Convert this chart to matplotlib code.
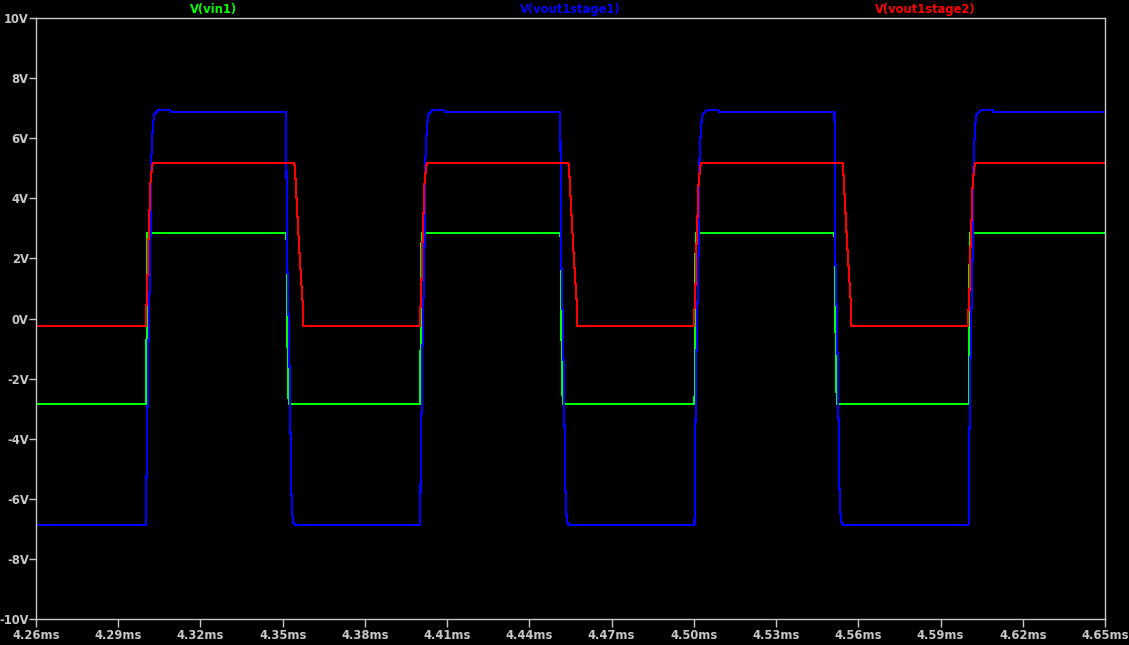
import matplotlib
matplotlib.use("Agg")
import matplotlib.pyplot as plt
from matplotlib.ticker import FixedLocator

# ---- data (time in ms, voltage in V) ----
vin1_t = [4.26,
          4.30024, 4.30028, 4.30068,
          4.35095, 4.35139, 4.35157, 4.35193, 4.35219,
          4.40024, 4.40028, 4.40068,
          4.45095, 4.45139, 4.45157, 4.45193, 4.45219,
          4.50024, 4.50028, 4.50068,
          4.55095, 4.55139, 4.55157, 4.55193, 4.55219,
          4.60024, 4.60028, 4.60068,
          4.65]
vin1_v = [-2.85,
          -2.85, -1.1, 2.85,
          2.85, 2.72, 0.3, -2.1, -2.85,
          -2.85, -1.1, 2.85,
          2.85, 2.72, 0.3, -2.1, -2.85,
          -2.85, -1.1, 2.85,
          2.85, 2.72, 0.3, -2.1, -2.85,
          -2.85, -1.1, 2.85,
          2.85]

stage1_t = [4.26,
            4.30024, 4.30028, 4.30097, 4.30170, 4.30206, 4.30261, 4.30316, 4.30389, 4.30462, 4.30900, 4.30936,
            4.35131, 4.35139, 4.35157, 4.35204, 4.35241, 4.35277, 4.35314, 4.35350, 4.35387, 4.35449,
            4.40024, 4.40028, 4.40097, 4.40170, 4.40206, 4.40261, 4.40316, 4.40389, 4.40462, 4.40900, 4.40936,
            4.45131, 4.45139, 4.45157, 4.45204, 4.45241, 4.45277, 4.45314, 4.45350, 4.45387, 4.45449,
            4.50024, 4.50028, 4.50097, 4.50170, 4.50206, 4.50261, 4.50316, 4.50389, 4.50462, 4.50900, 4.50936,
            4.55131, 4.55139, 4.55157, 4.55204, 4.55241, 4.55277, 4.55314, 4.55350, 4.55387, 4.55449,
            4.60024, 4.60028, 4.60097, 4.60170, 4.60206, 4.60261, 4.60316, 4.60389, 4.60462, 4.60900, 4.60936,
            4.65]
stage1_v = [-6.86,
            -6.86, -5.5, -1.05, 2.1, 5.3, 6.4, 6.8, 6.86, 6.93, 6.93, 6.86,
            6.86, 4.75, 2.2, 0.5, -1.15, -3.3, -5.7, -6.5, -6.8, -6.86,
            -6.86, -5.5, -1.05, 2.1, 5.3, 6.4, 6.8, 6.86, 6.93, 6.93, 6.86,
            6.86, 4.75, 2.2, 0.5, -1.15, -3.3, -5.7, -6.5, -6.8, -6.86,
            -6.86, -5.5, -1.05, 2.1, 5.3, 6.4, 6.8, 6.86, 6.93, 6.93, 6.86,
            6.86, 4.75, 2.2, 0.5, -1.15, -3.3, -5.7, -6.5, -6.8, -6.86,
            -6.86, -5.5, -1.05, 2.1, 5.3, 6.4, 6.8, 6.86, 6.93, 6.93, 6.86,
            6.86]

stage2_t = [4.26,
            4.30013, 4.30014, 4.30050, 4.30086, 4.30123, 4.30170, 4.30221, 4.30258,
            4.35423, 4.35449, 4.35522, 4.35595, 4.35668, 4.35741, 4.35752,
            4.40013, 4.40014, 4.40050, 4.40086, 4.40123, 4.40170, 4.40221, 4.40258,
            4.45423, 4.45449, 4.45522, 4.45595, 4.45668, 4.45741, 4.45752,
            4.50013, 4.50014, 4.50050, 4.50086, 4.50123, 4.50170, 4.50221, 4.50258,
            4.55423, 4.55449, 4.55522, 4.55595, 4.55668, 4.55741, 4.55752,
            4.60013, 4.60014, 4.60050, 4.60086, 4.60123, 4.60170, 4.60221, 4.60258,
            4.65]
stage2_v = [-0.25,
            -0.25, 0.2, 0.7, 2.2, 3.1, 4.45, 4.95, 5.18,
            5.18, 4.95, 3.7, 2.45, 1.35, 0.35, -0.25,
            -0.25, 0.2, 0.7, 2.2, 3.1, 4.45, 4.95, 5.18,
            5.18, 4.95, 3.7, 2.45, 1.35, 0.35, -0.25,
            -0.25, 0.2, 0.7, 2.2, 3.1, 4.45, 4.95, 5.18,
            5.18, 4.95, 3.7, 2.45, 1.35, 0.35, -0.25,
            -0.25, 0.2, 0.7, 2.2, 3.1, 4.45, 4.95, 5.18,
            5.18]

series_names = ["V(vin1)", "V(vout1stage1)", "V(vout1stage2)"]
series_colors = ["#00ff00", "#0000ff", "#ff0000"]

x_ticks = [4.26, 4.29, 4.32, 4.35, 4.38, 4.41, 4.44, 4.47, 4.50, 4.53, 4.56, 4.59, 4.62, 4.65]
x_tick_labels = ["4.26ms", "4.29ms", "4.32ms", "4.35ms", "4.38ms", "4.41ms", "4.44ms",
                 "4.47ms", "4.50ms", "4.53ms", "4.56ms", "4.59ms", "4.62ms", "4.65ms"]
y_ticks = [10, 8, 6, 4, 2, 0, -2, -4, -6, -8, -10]
y_tick_labels = ["10V", "8V", "6V", "4V", "2V", "0V", "-2V", "-4V", "-6V", "-8V", "-10V"]

# ---- figure ----
W, H = 1129, 645
fig = plt.figure(figsize=(W / 100, H / 100), dpi=100, facecolor="black")
ax = fig.add_axes([36 / W, 26 / H, 1069 / W, 601 / H], facecolor="black")

frame_col = "#c8c8c8"
for t, v, c in zip([vin1_t, stage1_t, stage2_t], [vin1_v, stage1_v, stage2_v], series_colors):
    ax.plot(t, v, color=c, lw=0.75, solid_joinstyle="miter", antialiased=False)

ax.set_xlim(4.26, 4.65)
ax.set_ylim(-10, 10)
ax.xaxis.set_major_locator(FixedLocator(x_ticks))
ax.set_xticklabels(x_tick_labels)
ax.yaxis.set_major_locator(FixedLocator(y_ticks))
ax.set_yticklabels(y_tick_labels)

for s in ax.spines.values():
    s.set_color(frame_col)
    s.set_linewidth(1.0)
ax.tick_params(axis="both", colors=frame_col, direction="out", length=6, width=1.0,
               labelsize=8.3)
ax.tick_params(axis="x", pad=1.5)
ax.tick_params(axis="y", pad=0.3, length=5)
for lab in ax.get_xticklabels() + ax.get_yticklabels():
    lab.set_fontweight("bold")
    lab.set_color(frame_col)

label_x = [214, 570, 925]
for name, col, px in zip(series_names, series_colors, label_x):
    fig.text(px / W, 1 - 9 / H, name, color=col, ha="center", va="center",
             fontsize=8.3, fontweight="bold")

fig.savefig("out.png", dpi=100, facecolor="black")
